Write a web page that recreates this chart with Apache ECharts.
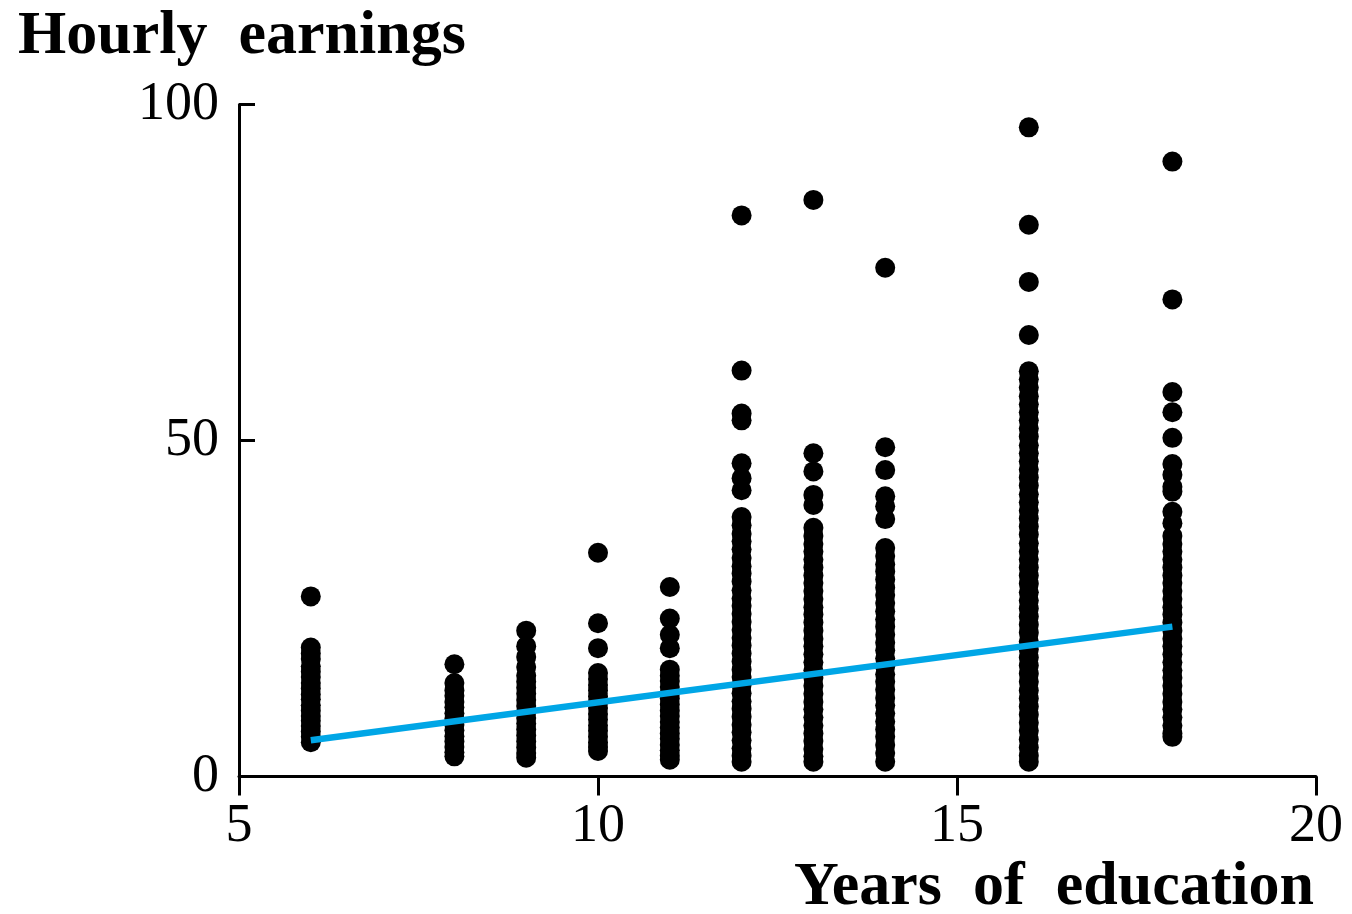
<!DOCTYPE html>
<html>
<head>
<meta charset="utf-8">
<title>Hourly earnings and years of education</title>
<script src="https://cdn.jsdelivr.net/npm/echarts@6/dist/echarts.min.js"></script>
<style>
  html, body { margin: 0; padding: 0; background: #ffffff; }
  #chart { width: 1352px; height: 914px; }
</style>
</head>
<body>
<div id="chart"></div>
<script>
// Hourly earnings observed at each level of schooling (years of education)
const educationLevels = [6, 8, 9, 10, 11, 12, 13, 14, 16, 18];

const earnings6 = [26.8, 19.2, 18.3, 17.5, 16.4, 15.6, 14.8, 13.9, 13.1, 12.2, 11.5, 10.6, 9.8, 9.0, 8.3, 7.5, 6.7, 5.9, 5.1];
const earnings8 = [16.7, 13.9, 12.8, 12.0, 11.1, 10.3, 9.4, 8.6, 7.7, 6.9, 6.0, 5.2, 4.4, 3.6, 3.0];
const earnings9 = [21.7, 19.4, 17.8, 16.3, 15.0, 14.1, 13.2, 12.3, 11.4, 10.5, 9.6, 8.7, 7.9, 7.0, 6.1, 5.2, 4.3, 3.5, 2.8];
const earnings10 = [33.3, 22.8, 19.1, 15.4, 14.5, 13.6, 12.8, 11.9, 11.0, 10.2, 9.3, 8.5, 7.6, 6.8, 5.9, 5.1, 4.4, 3.8];
const earnings11 = [28.2, 23.5, 21.1, 19.1, 15.9, 15.0, 14.2, 13.3, 12.4, 11.6, 10.7, 9.8, 9.0, 8.1, 7.3, 6.4, 5.6, 4.7, 3.9, 3.1, 2.5];
const earnings12 = [83.5, 60.4, 54.0, 53.0, 46.6, 44.4, 42.6, 38.6, 37.4, 36.1, 35.0, 33.8, 32.5, 31.3, 30.2, 29.0, 27.7, 26.5, 25.4, 24.2, 23.0, 21.8, 20.6, 19.5, 18.3, 17.1, 15.9, 14.8, 13.6, 12.4, 11.2, 10.1, 8.9, 7.7, 6.6, 5.4, 4.2, 3.1, 2.2];
const earnings13 = [85.8, 48.1, 45.4, 41.9, 40.4, 37.0, 35.8, 34.6, 33.5, 32.3, 31.1, 29.9, 28.8, 27.6, 26.4, 25.2, 24.1, 22.9, 21.7, 20.5, 19.4, 18.2, 17.0, 15.8, 14.7, 13.5, 12.3, 11.1, 10.0, 8.8, 7.6, 6.4, 5.3, 4.1, 3.0, 2.2];
const earnings14 = [75.7, 49.0, 45.6, 41.7, 40.2, 38.3, 34.0, 32.8, 31.6, 30.5, 29.3, 28.1, 27.0, 25.8, 24.6, 23.4, 22.3, 21.1, 19.9, 18.8, 17.6, 16.4, 15.2, 14.1, 12.9, 11.7, 10.6, 9.4, 8.2, 7.0, 5.9, 4.7, 3.5, 2.2];
const earnings16 = [96.6, 82.1, 73.6, 65.7, 60.3, 59.1, 57.9, 56.6, 55.4, 54.2, 53.0, 51.8, 50.6, 49.3, 48.1, 46.9, 45.7, 44.5, 43.3, 42.0, 40.8, 39.6, 38.4, 37.2, 36.0, 34.7, 33.5, 32.3, 31.1, 29.9, 28.7, 27.4, 26.2, 25.0, 23.8, 22.6, 21.4, 20.1, 18.9, 17.7, 16.5, 15.3, 14.1, 12.8, 11.6, 10.4, 9.2, 8.0, 6.8, 5.5, 4.3, 3.1, 2.2];
const earnings18 = [91.5, 71.0, 57.2, 54.2, 50.4, 46.5, 44.9, 43.1, 42.4, 39.4, 37.7, 35.8, 34.6, 33.5, 32.3, 31.1, 29.9, 28.8, 27.6, 26.4, 25.2, 24.1, 22.9, 21.7, 20.5, 19.4, 18.2, 17.0, 15.8, 14.7, 13.5, 12.3, 11.1, 10.0, 8.8, 7.6, 6.4, 5.9];

const earningsByLevel = [earnings6, earnings8, earnings9, earnings10, earnings11, earnings12, earnings13, earnings14, earnings16, earnings18];

// Least-squares line endpoints: [years, predicted hourly earnings]
const fitYears = [6, 18];
const fitEarnings = [5.4, 22.3];

// Axis ticks
const xTicks = [5, 10, 15, 20];
const yTicks = [0, 50, 100];

const serif = 'Liberation Serif';

const points = [];
educationLevels.forEach((years, i) => {
  earningsByLevel[i].forEach(v => points.push([years, v]));
});

const chart = echarts.init(document.getElementById('chart'), null, { renderer: 'canvas' });

chart.setOption({
  backgroundColor: '#ffffff',
  animation: false,
  title: [
    {
      text: 'Hourly  earnings',
      left: 13,
      top: 1,
      textStyle: { fontFamily: serif, fontWeight: 'bold', fontSize: 62, color: '#000000' }
    },
    {
      text: 'Years  of  education',
      right: 33,
      top: 852,
      textStyle: { fontFamily: serif, fontWeight: 'bold', fontSize: 62, color: '#000000' }
    }
  ],
  grid: { left: 239, right: 36, top: 104.5, bottom: 137.5, containLabel: false },
  xAxis: {
    type: 'value',
    min: xTicks[0],
    max: xTicks[xTicks.length - 1],
    interval: xTicks[1] - xTicks[0],
    axisLine: { show: true, onZero: false, lineStyle: { color: '#000000', width: 3 } },
    axisTick: { show: true, inside: false, length: 19, lineStyle: { color: '#000000', width: 3 } },
    axisLabel: { margin: 23, fontFamily: serif, fontSize: 54, color: '#000000' },
    splitLine: { show: false }
  },
  yAxis: {
    type: 'value',
    min: yTicks[0],
    max: yTicks[yTicks.length - 1],
    interval: yTicks[1] - yTicks[0],
    axisLine: { show: true, onZero: false, lineStyle: { color: '#000000', width: 3 } },
    axisTick: { show: true, inside: true, length: 16, lineStyle: { color: '#000000', width: 3 } },
    axisLabel: { margin: 20, fontFamily: serif, fontSize: 54, color: '#000000' },
    splitLine: { show: false }
  },
  series: [
    {
      name: 'Observations',
      type: 'scatter',
      data: points,
      symbol: 'circle',
      symbolSize: 20,
      itemStyle: { color: '#000000', opacity: 1 },
      z: 2
    },
    {
      name: 'Regression line',
      type: 'line',
      data: fitYears.map((x, i) => [x, fitEarnings[i]]),
      symbol: 'none',
      lineStyle: { color: '#00a6e6', width: 6.5 },
      z: 3
    }
  ]
});
</script>
</body>
</html>
